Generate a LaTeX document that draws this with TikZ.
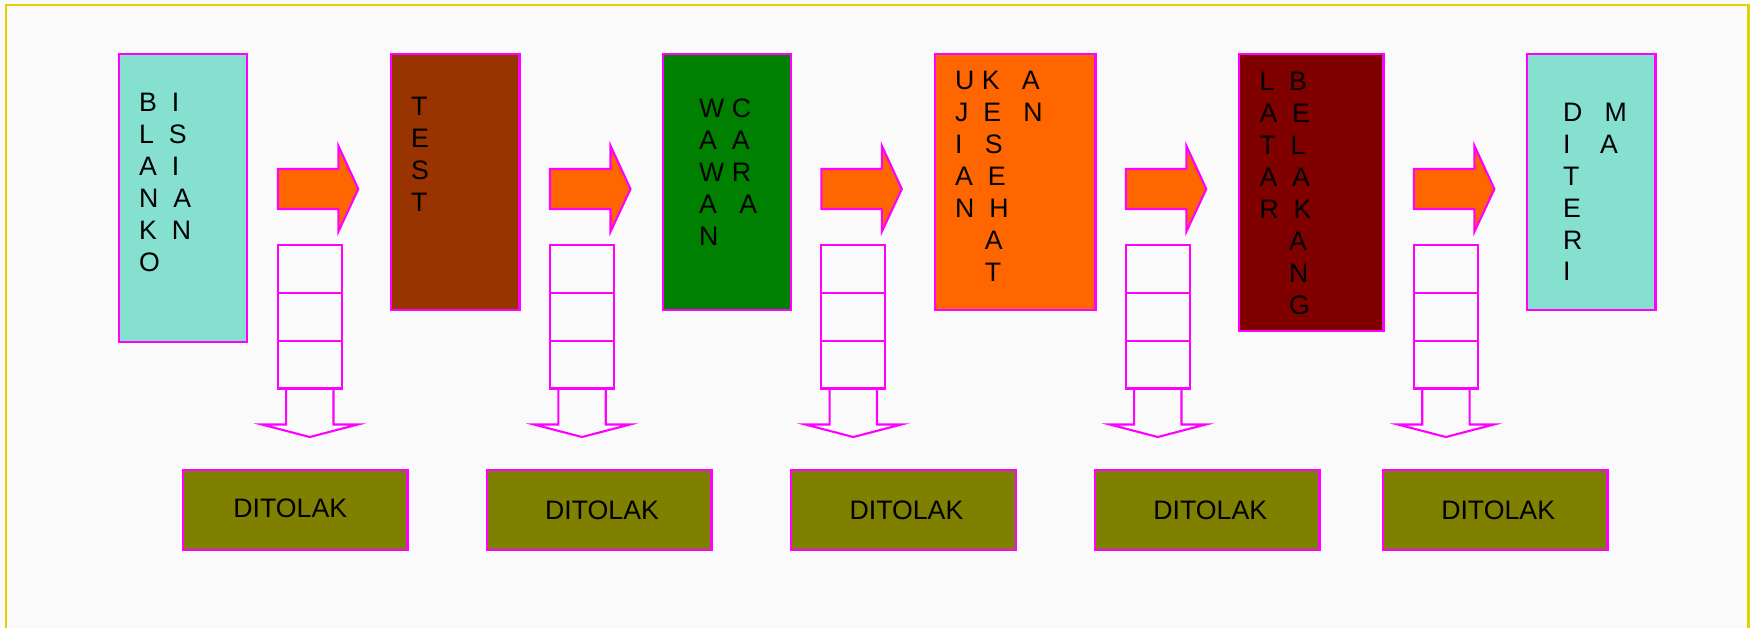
\documentclass[tikz,border=0pt]{standalone}
\usepackage{fontspec}
\setmainfont{Liberation Sans}
\usetikzlibrary{positioning}
\definecolor{boxcyan}{RGB}{133,224,208}
\definecolor{boxbrown}{RGB}{153,51,0}
\definecolor{boxgreen}{RGB}{0,128,0}
\definecolor{boxorange}{RGB}{255,102,0}
\definecolor{boxmaroon}{RGB}{128,0,0}
\definecolor{boxolive}{RGB}{128,128,0}
\definecolor{edgepink}{RGB}{255,0,255}
\definecolor{framegold}{RGB}{224,210,0}

\begin{document}
\begin{tikzpicture}[font=\fontsize{7.6}{9.08}\selectfont,
  stage/.style={draw=edgepink,line width=0.68pt,anchor=north west,inner sep=0pt},
  letters/.style={anchor=north west,align=left,inner sep=0pt},
  reject/.style={stage,fill=boxolive,minimum width=2.245cm,minimum height=0.803cm},
  outline/.style={draw=edgepink,line width=0.6pt}]
\useasboundingbox (0,0) rectangle (17.5,-6.28);
% page and frame
\fill[white!98!black] (0,0) rectangle (17.5,-6.28);
\draw[framegold,line width=0.75pt] (0.06,-6.28) |- (17.485,-0.05) -- (17.485,-6.28);
% selection stages
\node[stage,fill=boxcyan,minimum width=1.277cm,minimum height=2.88cm] (blanko) at (1.18,-0.527) {};
\node[stage,fill=boxbrown,minimum width=1.286cm,minimum height=2.56cm] (test) at (3.896,-0.527) {};
\node[stage,fill=boxgreen,minimum width=1.283cm,minimum height=2.56cm] (wawancara) at (6.617,-0.527) {};
\node[stage,fill=boxorange,minimum width=1.603cm,minimum height=2.56cm] (ujian) at (9.339,-0.527) {};
\node[stage,fill=boxmaroon,minimum width=1.447cm,minimum height=2.773cm] (latar) at (12.376,-0.527) {};
\node[stage,fill=boxcyan,minimum width=1.286cm,minimum height=2.56cm] (diterima) at (15.257,-0.527) {};
% vertical lettering
\node[letters] (blanko-txt) at (1.385,-0.927) {B~~I\\L~~S\\A~~I\\N~~A\\K~~N\\O};
\node[letters] (test-txt) at (4.103,-0.967) {T\\E\\S\\T};
\node[letters] (wawancara-txt) at (6.985,-0.983) {W~C\\A~~A\\W~R\\A~~~A\\N};
\node[letters] (ujian-txt) at (9.545,-0.707)
  {U~K~~~A\\J~~E~~~N\\I~~~S\\A~~E\\N~~H\\\null~~~~A\\\null~~~~T};
\node[letters] (latar-txt) at (12.588,-0.717)
  {L~~B\\A~~E\\T~~L\\A~~A\\R~~K\\\null~~~~A\\\null~~~~N\\\null~~~~G};
\node[letters] (diterima-txt) at (15.623,-1.023) {D~~~M\\I~~~~A\\T\\E\\R\\I};
% block arrows, reject stacks and open arrows
\foreach \x in {2.778,5.50,8.213,11.258,14.139} {
  \filldraw[outline,fill=boxorange] (\x,-1.69) -- (\x+0.605,-1.69) -- (\x+0.605,-1.457)
    -- (\x+0.805,-1.89) -- (\x+0.605,-2.317) -- (\x+0.605,-2.09) -- (\x,-2.09) -- cycle;
  \draw[outline] (\x,-2.453) rectangle (\x+0.64,-3.885);
  \draw[outline] (\x,-2.93) -- (\x+0.64,-2.93);
  \draw[outline] (\x,-3.407) -- (\x+0.64,-3.407);
  \draw[outline] (\x+0.083,-3.885) |- (\x-0.16,-4.245) -- (\x+0.32,-4.37)
    -- (\x+0.80,-4.245) -| (\x+0.557,-3.885);
}
% rejected
\foreach \x/\dx/\dy [count=\i] in {1.818/-0.05/0.03,4.856/0.03/-0.02,7.90/0.03/-0.02,10.938/0.03/-0.02,13.817/0.03/-0.02}
  \node[reject] (tolak\i) at (\x,-4.687) {\raisebox{\dy cm}{\hspace*{\dx cm}\hspace*{\dx cm}DITOLAK}};
\end{tikzpicture}
\end{document}
